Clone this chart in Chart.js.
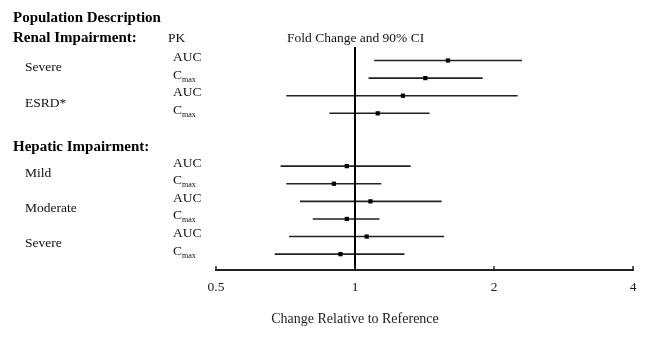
<!DOCTYPE html>
<html>
<head>
<meta charset="utf-8">
<script src="https://cdn.jsdelivr.net/npm/chart.js@4/dist/chart.umd.min.js"></script>
<style>
html,body{margin:0;padding:0;background:#fff;}
#wrap{width:650px;height:340px;}
</style>
</head>
<body>
<div id="wrap"><canvas id="c" width="650" height="340"></canvas></div>
<script>
// ---- data ----
const rowLabels = ['AUC','Cmax','AUC','Cmax','','','AUC','Cmax','AUC','Cmax','AUC','Cmax'];
const populations = ['Severe','ESRD*','Mild','Moderate','Severe'];
const foldChange = [1.59,1.42,1.27,1.12,null,null,0.96,0.90,1.08,0.96,1.06,0.93];
const ciLower    = [1.10,1.07,0.71,0.88,null,null,0.69,0.71,0.76,0.81,0.72,0.67];
const ciUpper    = [2.30,1.89,2.25,1.45,null,null,1.32,1.14,1.54,1.13,1.56,1.28];
const xTicks = [0.5,1,2,4];

const FONT = "'Liberation Serif', 'Times New Roman', serif";
const yMin = -0.767, yMax = 11.90;

// population rows: each population spans two consecutive data rows
const popRows = [];
rowLabels.forEach((l,i)=>{ if(l==='AUC') popRows.push(i); });

const datasets = [];
// error bars
rowLabels.forEach((l,i)=>{
  if(!l) return;
  datasets.push({
    type:'line', data:[{x:ciLower[i],y:i},{x:ciUpper[i],y:i}],
    borderColor:'#222', borderWidth:1.6, pointRadius:0, fill:false, order:2
  });
});
// reference line at 1
datasets.push({
  type:'line', data:[{x:1,y:yMin},{x:1,y:yMax}],
  borderColor:'#000', borderWidth:2, pointRadius:0, fill:false, order:1
});
// point estimates
datasets.push({
  type:'scatter',
  data: rowLabels.map((l,i)=> l ? {x:foldChange[i], y:i} : null).filter(Boolean),
  pointStyle:'rect', pointRadius:3, backgroundColor:'#000', borderColor:'#000', borderWidth:0, order:0
});

const textPlugin = {
  id:'texts',
  afterDraw(chart){
    const ctx = chart.ctx;
    const ys = chart.scales.y, xs = chart.scales.x;
    ctx.save();
    ctx.fillStyle = '#000';
    ctx.textBaseline = 'alphabetic';
    ctx.textAlign = 'left';
    ctx.font = "bold 15px " + FONT;
    ctx.fillText('Population Description', 13, 22);
    ctx.fillText('Renal Impairment:', 13, 42);
    ctx.fillText('Hepatic Impairment:', 13, 151);
    ctx.font = "13.5px " + FONT;
    ctx.fillStyle = '#111';
    ctx.fillText('PK', 168, 42);
    ctx.fillText('Fold Change and 90% CI', 287, 42);
    // population labels
    popRows.forEach((r,k)=>{
      const y = (ys.getPixelForValue(r) + ys.getPixelForValue(r+1))/2 + 2;
      ctx.font = "13.5px " + FONT;
      ctx.fillText(populations[k], 25, y);
    });
    // PK labels
    rowLabels.forEach((l,i)=>{
      if(!l) return;
      const y = ys.getPixelForValue(i) + 0.5;
      ctx.font = "13.5px " + FONT;
      if(l==='Cmax'){
        ctx.fillText('C', 173, y);
        const w = ctx.measureText('C').width;
        ctx.font = "8px " + FONT;
        ctx.fillText('max', 173 + w, y + 3);
      } else {
        ctx.fillText(l, 173, y);
      }
    });
    // upward tick marks
    ctx.strokeStyle = '#222';
    ctx.lineWidth = 1.5;
    const by = chart.chartArea.bottom;
    xTicks.forEach(v=>{
      const x = xs.getPixelForValue(v);
      ctx.beginPath(); ctx.moveTo(x, by); ctx.lineTo(x, by-4); ctx.stroke();
    });
    // axis title centered at 1
    ctx.font = "14px " + FONT;
    ctx.fillStyle = '#222';
    ctx.textAlign = 'center';
    ctx.fillText('Change Relative to Reference', xs.getPixelForValue(1), 323);
    ctx.restore();
  }
};

new Chart(document.getElementById('c'), {
  type:'scatter',
  data:{ datasets },
  options:{
    responsive:false, animation:false,
    layout:{ padding:{ left:216, right:17, top:47, bottom:0 } },
    plugins:{ legend:{display:false}, tooltip:{enabled:false} },
    scales:{
      x:{
        type:'logarithmic', min:0.5, max:4,
        afterBuildTicks:(s)=>{ s.ticks = xTicks.map(v=>({value:v})); },
        afterFit:(s)=>{ s.height = 70; },
        grid:{ display:false, drawTicks:false },
        border:{ display:true, color:'#222', width:2 },
        ticks:{ autoSkip:false, maxRotation:0, padding:9, color:'#222',
          font:{ family:FONT, size:13.5 }, callback:(v)=>String(v) }
      },
      y:{
        type:'linear', reverse:true, min:yMin, max:yMax, display:false
      }
    }
  },
  plugins:[textPlugin]
});
</script>
</body>
</html>
